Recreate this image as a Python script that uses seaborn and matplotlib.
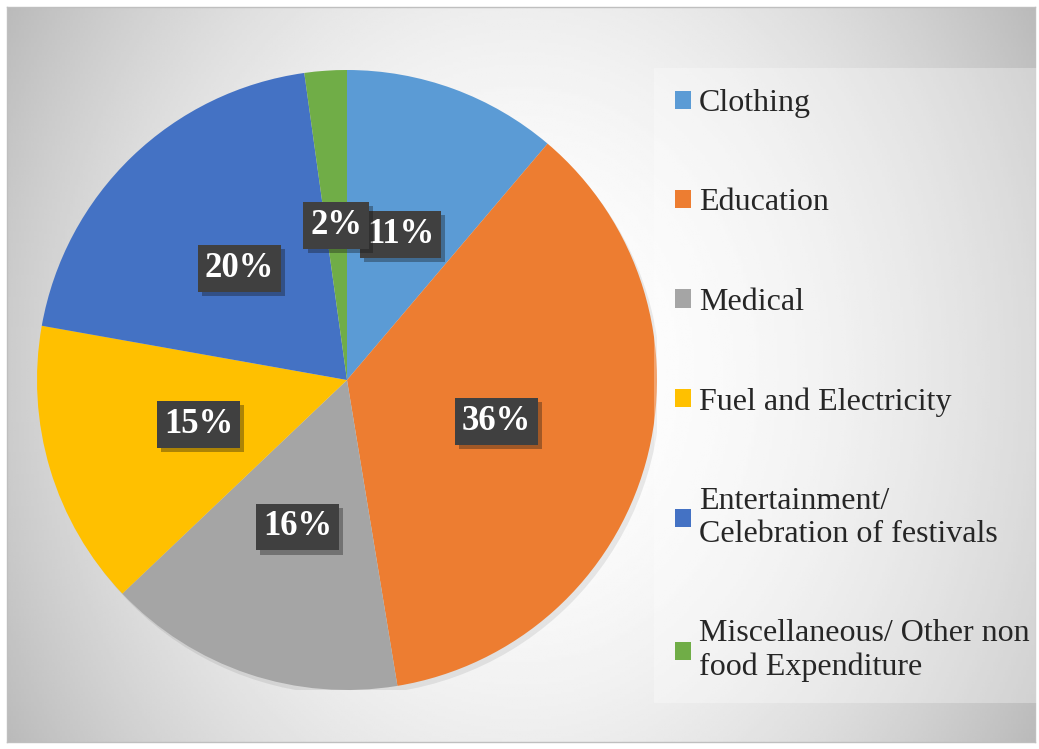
import matplotlib

matplotlib.use("Agg")
import matplotlib.pyplot as plt
import matplotlib.patheffects as pe
import numpy as np
import seaborn as sns

# --------------------------------------------------------------------------- #
# Data (share of non-food expenditure, %)
# --------------------------------------------------------------------------- #
categories = [
    "Clothing",
    "Education",
    "Medical",
    "Fuel and Electricity",
    "Entertainment/\nCelebration of festivals",
    "Miscellaneous/ Other non\nfood Expenditure",
]
shares = [11.2, 36.2, 15.5, 14.9, 20.0, 2.2]
slice_colors = ["#5B9BD5", "#ED7D31", "#A5A5A5", "#FFC000", "#4472C4", "#70AD47"]

sns.set_theme(style="white")
plt.rcParams["font.family"] = ["Liberation Serif", "DejaVu Serif"]
palette = sns.color_palette(slice_colors)

W, H = 1039, 749
fig = plt.figure(figsize=(W / 100, H / 100), dpi=100)
fig.patch.set_facecolor("white")

# chart area with a soft radial gradient (Office style)
bg = fig.add_axes([7 / W, 7 / H, 1028 / W, 735 / H])
yy, xx = np.mgrid[-1:1:300j, -1:1:400j]
shade = 1.0 - 0.2 * xx**2 - 0.07 * yy**2
bg.imshow(shade, cmap="gray", vmin=0, vmax=1, aspect="auto", extent=[0, 1, 0, 1])
bg.set_xticks([])
bg.set_yticks([])
for s in bg.spines.values():
    s.set_color("#bfbfbf")
    s.set_linewidth(1)

# pie axes: centre (347, 380) px, radius 310 px
cx, cy, r = 347, 380, 310
ax = fig.add_axes([(cx - r) / W, (H - cy - r) / H, 2 * r / W, 2 * r / H])
ax.set_facecolor("none")

# faint drop shadow behind the whole pie
ax.add_patch(plt.Circle((0.012, -0.016), 1, fc="#000000", alpha=0.08, ec="none", zorder=0))

wedges, _, autotexts = ax.pie(
    shares,
    colors=palette,
    startangle=90,
    counterclock=False,
    autopct="%.0f%%",
    pctdistance=0.5,
    radius=1,
    wedgeprops=dict(linewidth=0),
)
for t in autotexts:
    t.set_color("white")
    t.set_fontsize(25)
    t.set_fontweight("bold")
    t.set_bbox(dict(boxstyle="square,pad=0.2", fc="#404040", ec="none"))
    t.get_bbox_patch().set_path_effects(
        [pe.SimplePatchShadow(offset=(3, -3), alpha=0.35), pe.Normal()]
    )
ax.set_xlim(-1, 1)
ax.set_ylim(-1, 1)
ax.set_aspect("equal")
ax.axis("off")

leg = fig.legend(
    wedges,
    categories,
    loc="upper left",
    bbox_to_anchor=(664 / W, 1 - 78 / H),
    frameon=True,
    fontsize=23,
    labelspacing=2.2,
    handlelength=0.5,
    handleheight=0.5,
    handletextpad=0.25,
    borderpad=0.35,
    borderaxespad=0,
)
for txt in leg.get_texts():
    txt.set_linespacing(1.2)
frame = leg.get_frame()
frame.set_facecolor("white")
frame.set_alpha(0.3)
frame.set_edgecolor("none")
frame.set_boxstyle("square")

fig.savefig("out.png", dpi=100)
plt.close(fig)
